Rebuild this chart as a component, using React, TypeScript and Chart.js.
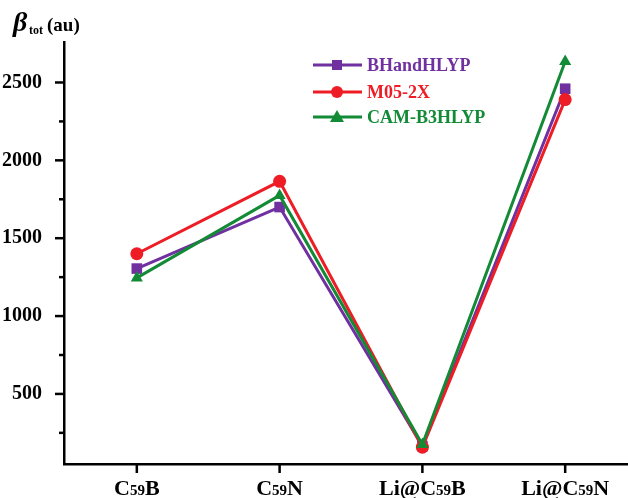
import React, { useEffect, useRef } from "react";
import { Chart, registerables } from "chart.js";

Chart.register(...registerables);

const categories = ["C59B", "C59N", "Li@C59B", "Li@C59N"];
const seriesNames = ["BHandHLYP", "M05-2X", "CAM-B3HLYP"];
const bhandhlyp = [1305, 1700, 165, 2460];
const m052x = [1400, 1865, 158, 2390];
const camb3hlyp = [1245, 1775, 175, 2635];
const seriesColors = ["#7030A0", "#EE1C25", "#138A36"];
const seriesMarkers = ["rect", "circle", "triangle"];
const majorTicks = [500, 1000, 1500, 2000, 2500];
const minorTicks = [250, 750, 1250, 1750, 2250];

const SERIF = "'Liberation Serif', 'DejaVu Serif', serif";

function drawMarker(ctx: CanvasRenderingContext2D, style: string, x: number, y: number, color: string) {
  ctx.save();
  ctx.fillStyle = color;
  ctx.beginPath();
  if (style === "rect") {
    ctx.rect(x - 5, y - 5, 10, 10);
  } else if (style === "circle") {
    ctx.arc(x, y, 6, 0, Math.PI * 2);
  } else {
    ctx.moveTo(x, y - 7);
    ctx.lineTo(x + 7, y + 5);
    ctx.lineTo(x - 7, y + 5);
    ctx.closePath();
  }
  ctx.fill();
  ctx.restore();
}

const decorPlugin = {
  id: "decor",
  afterDraw(chart: any) {
    const ctx: CanvasRenderingContext2D = chart.ctx;
    const xs = chart.scales.x;
    const ys = chart.scales.y;
    const area = chart.chartArea;
    ctx.save();
    ctx.strokeStyle = "#000";
    ctx.lineWidth = 2.5;
    majorTicks.forEach((v) => {
      const py = ys.getPixelForValue(v);
      ctx.beginPath();
      ctx.moveTo(area.left - 9, py);
      ctx.lineTo(area.left, py);
      ctx.stroke();
    });
    minorTicks.forEach((v) => {
      const py = ys.getPixelForValue(v);
      ctx.beginPath();
      ctx.moveTo(area.left - 5, py);
      ctx.lineTo(area.left, py);
      ctx.stroke();
    });
    ctx.fillStyle = "#000";
    ctx.textBaseline = "alphabetic";
    categories.forEach((label, i) => {
      const px = xs.getPixelForValue(i);
      ctx.beginPath();
      ctx.moveTo(px, area.bottom);
      ctx.lineTo(px, area.bottom + 9);
      ctx.stroke();
      const parts = label.split(/(\d+)/).filter((p) => p.length > 0);
      const fonts = parts.map((p) => (/^\d+$/.test(p) ? `bold 15px ${SERIF}` : `bold 22px ${SERIF}`));
      let total = 0;
      const widths = parts.map((p, k) => {
        ctx.font = fonts[k];
        const w = ctx.measureText(p).width;
        total += w;
        return w;
      });
      let cx = px - total / 2;
      parts.forEach((p, k) => {
        ctx.font = fonts[k];
        ctx.textAlign = "left";
        ctx.fillText(p, cx, 495);
        cx += widths[k];
      });
    });
    ctx.textAlign = "left";
    ctx.font = `italic bold 28px ${SERIF}`;
    ctx.fillText("β", 13, 31);
    ctx.font = `bold 12px ${SERIF}`;
    ctx.fillText("tot", 29, 34);
    ctx.font = `bold 19px ${SERIF}`;
    ctx.fillText("(au)", 47, 31);
    const rows = [65, 92, 117];
    seriesNames.forEach((name, i) => {
      const y = rows[i];
      ctx.strokeStyle = seriesColors[i];
      ctx.lineWidth = 3;
      ctx.beginPath();
      ctx.moveTo(313, y);
      ctx.lineTo(362, y);
      ctx.stroke();
      drawMarker(ctx, seriesMarkers[i], 337, y, seriesColors[i]);
      ctx.fillStyle = seriesColors[i];
      ctx.font = `bold 18px ${SERIF}`;
      ctx.textBaseline = "middle";
      ctx.fillText(name, 367, y + 1);
    });
    ctx.restore();
  },
};

export default function App() {
  const ref = useRef<HTMLCanvasElement>(null);
  useEffect(() => {
    if (!ref.current) return;
    const all = [bhandhlyp, m052x, camb3hlyp];
    const orders = [2, 1, 0];
    const radii = [7.5, 6.5, 7];
    const chart = new Chart(ref.current, {
      type: "line",
      data: {
        datasets: all.map((vals, i) => ({
          label: seriesNames[i],
          data: vals.map((v, k) => ({ x: k, y: v })),
          borderColor: seriesColors[i],
          backgroundColor: seriesColors[i],
          borderWidth: 3,
          pointStyle: seriesMarkers[i] as any,
          pointRadius: radii[i],
          pointBorderWidth: 0,
          order: orders[i],
          clip: false as any,
        })),
      },
      options: {
        animation: false,
        responsive: false,
        devicePixelRatio: 1,
        layout: { autoPadding: false, padding: { top: 42, right: 0, left: 0, bottom: 0 } },
        plugins: { legend: { display: false }, tooltip: { enabled: false } },
        scales: {
          x: {
            type: "linear",
            min: -0.51,
            max: 3.44,
            ticks: { display: false },
            grid: { display: false },
            border: { display: true, color: "#000", width: 2.5 },
            afterFit: (s: any) => {
              s.height = 34;
            },
          },
          y: {
            type: "linear",
            min: 50,
            max: 2760,
            afterBuildTicks: (s: any) => {
              s.ticks = majorTicks.map((v) => ({ value: v }));
            },
            ticks: {
              color: "#000",
              font: { family: SERIF, weight: "bold", size: 20 },
              padding: 14,
              callback: (v: any) => String(v),
            },
            grid: { display: false },
            border: { display: true, color: "#000", width: 2.5 },
            afterFit: (s: any) => {
              s.width = 64;
            },
          },
        },
      },
      plugins: [decorPlugin],
    });
    return () => chart.destroy();
  }, []);
  return (
    <div style={{ position: "fixed", left: 0, top: 0, width: 628, height: 498, background: "#fff" }}>
      <canvas ref={ref} width={628} height={498} />
    </div>
  );
}
